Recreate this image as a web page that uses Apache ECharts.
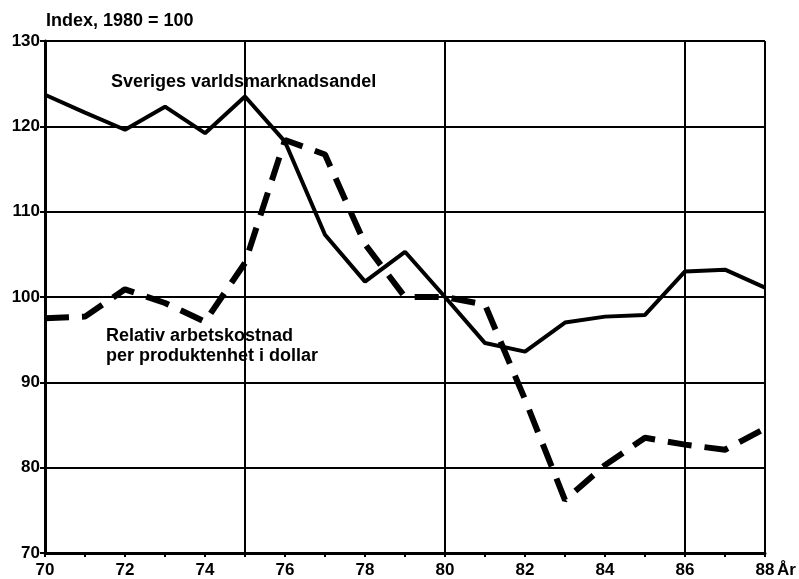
<!DOCTYPE html>
<html>
<head>
<meta charset="utf-8">
<script src="https://cdn.jsdelivr.net/npm/echarts@6/dist/echarts.min.js"></script>
<style>
  html, body { margin: 0; padding: 0; background: #fff; }
  #chart { width: 799px; height: 579px; }
</style>
</head>
<body>
<div id="chart"></div>
<script>
// år (x-axeln)
var years = [70, 71, 72, 73, 74, 75, 76, 77, 78, 79, 80, 81, 82, 83, 84, 85, 86, 87, 88];
// Sveriges världsmarknadsandel
var marketShare = [123.7, 121.6, 119.6, 122.3, 119.2, 123.5, 118.2, 107.3, 101.8, 105.3, 100.0, 94.6, 93.6, 97.0, 97.7, 97.9, 103.0, 103.2, 101.1];
// Relativ arbetskostnad per produktenhet i dollar
var laborCost = [97.5, 97.7, 100.9, 99.3, 97.1, 104.0, 118.4, 116.7, 106.2, 100.0, 100.0, 99.1, 88.0, 76.2, 80.3, 83.5, 82.7, 82.1, 84.6];
// vertikala stödlinjer
var vLines = [75, 80, 86, 88];

var font = '"Liberation Sans", Arial, sans-serif';

function pairs(vals) {
    var out = [];
    for (var i = 0; i < years.length; i++) {
        out.push([years[i], vals[i]]);
    }
    return out;
}

var myChart = echarts.init(document.getElementById('chart'));
var option = {
    backgroundColor: '#fff',
    animation: false,
    grid: { left: 45, right: 34, top: 41, bottom: 26 },
    xAxis: {
        type: 'value',
        min: 70,
        max: 88,
        interval: 1,
        axisLine: { show: true, onZero: false, lineStyle: { color: '#000', width: 3 } },
        axisTick: { show: true, inside: false, length: 4, lineStyle: { color: '#000', width: 2 } },
        axisLabel: {
            color: '#000', fontFamily: font, fontWeight: 'bold', fontSize: 17, margin: 9,
            formatter: function (v) { return v % 2 === 0 ? String(v) : ''; }
        },
        splitLine: { show: false }
    },
    yAxis: {
        type: 'value',
        min: 70,
        max: 130,
        interval: 10,
        axisLine: { show: true, lineStyle: { color: '#000', width: 3 } },
        axisTick: { show: true, length: 5, lineStyle: { color: '#000', width: 2 } },
        axisLabel: { color: '#000', fontFamily: font, fontWeight: 'bold', fontSize: 17, margin: 5 },
        splitLine: { show: true, lineStyle: { color: '#000', width: 2 } }
    },
    graphic: [
        { type: 'text', left: 46, top: 12, style: { text: 'Index, 1980 = 100', fill: '#000', font: 'bold 18px ' + font } },
        { type: 'text', left: 111, top: 73, style: { text: 'Sveriges varldsmarknadsandel', fill: '#000', font: 'bold 18px ' + font, backgroundColor: '#fff' } },
        { type: 'text', left: 106, top: 326, style: { text: 'Relativ arbetskostnad\nper produktenhet i dollar', fill: '#000', font: 'bold 18px ' + font, lineHeight: 20 } },
        { type: 'text', left: 777, top: 562, style: { text: 'År', fill: '#000', font: 'bold 17px ' + font } }
    ],
    series: [
        {
            name: 'Relativ arbetskostnad per produktenhet i dollar',
            type: 'line',
            data: pairs(laborCost),
            symbol: 'none',
            z: 3,
            lineStyle: { color: '#000', width: 6, type: [24, 13] },
            markLine: {
                silent: true,
                symbol: 'none',
                label: { show: false },
                lineStyle: { color: '#000', width: 2, type: 'solid' },
                data: vLines.map(function (v) { return { xAxis: v }; })
            }
        },
        {
            name: 'Sveriges varldsmarknadsandel',
            type: 'line',
            data: pairs(marketShare),
            symbol: 'none',
            z: 4,
            lineStyle: { color: '#000', width: 4, type: 'solid' }
        }
    ]
};
myChart.setOption(option);
</script>
</body>
</html>
